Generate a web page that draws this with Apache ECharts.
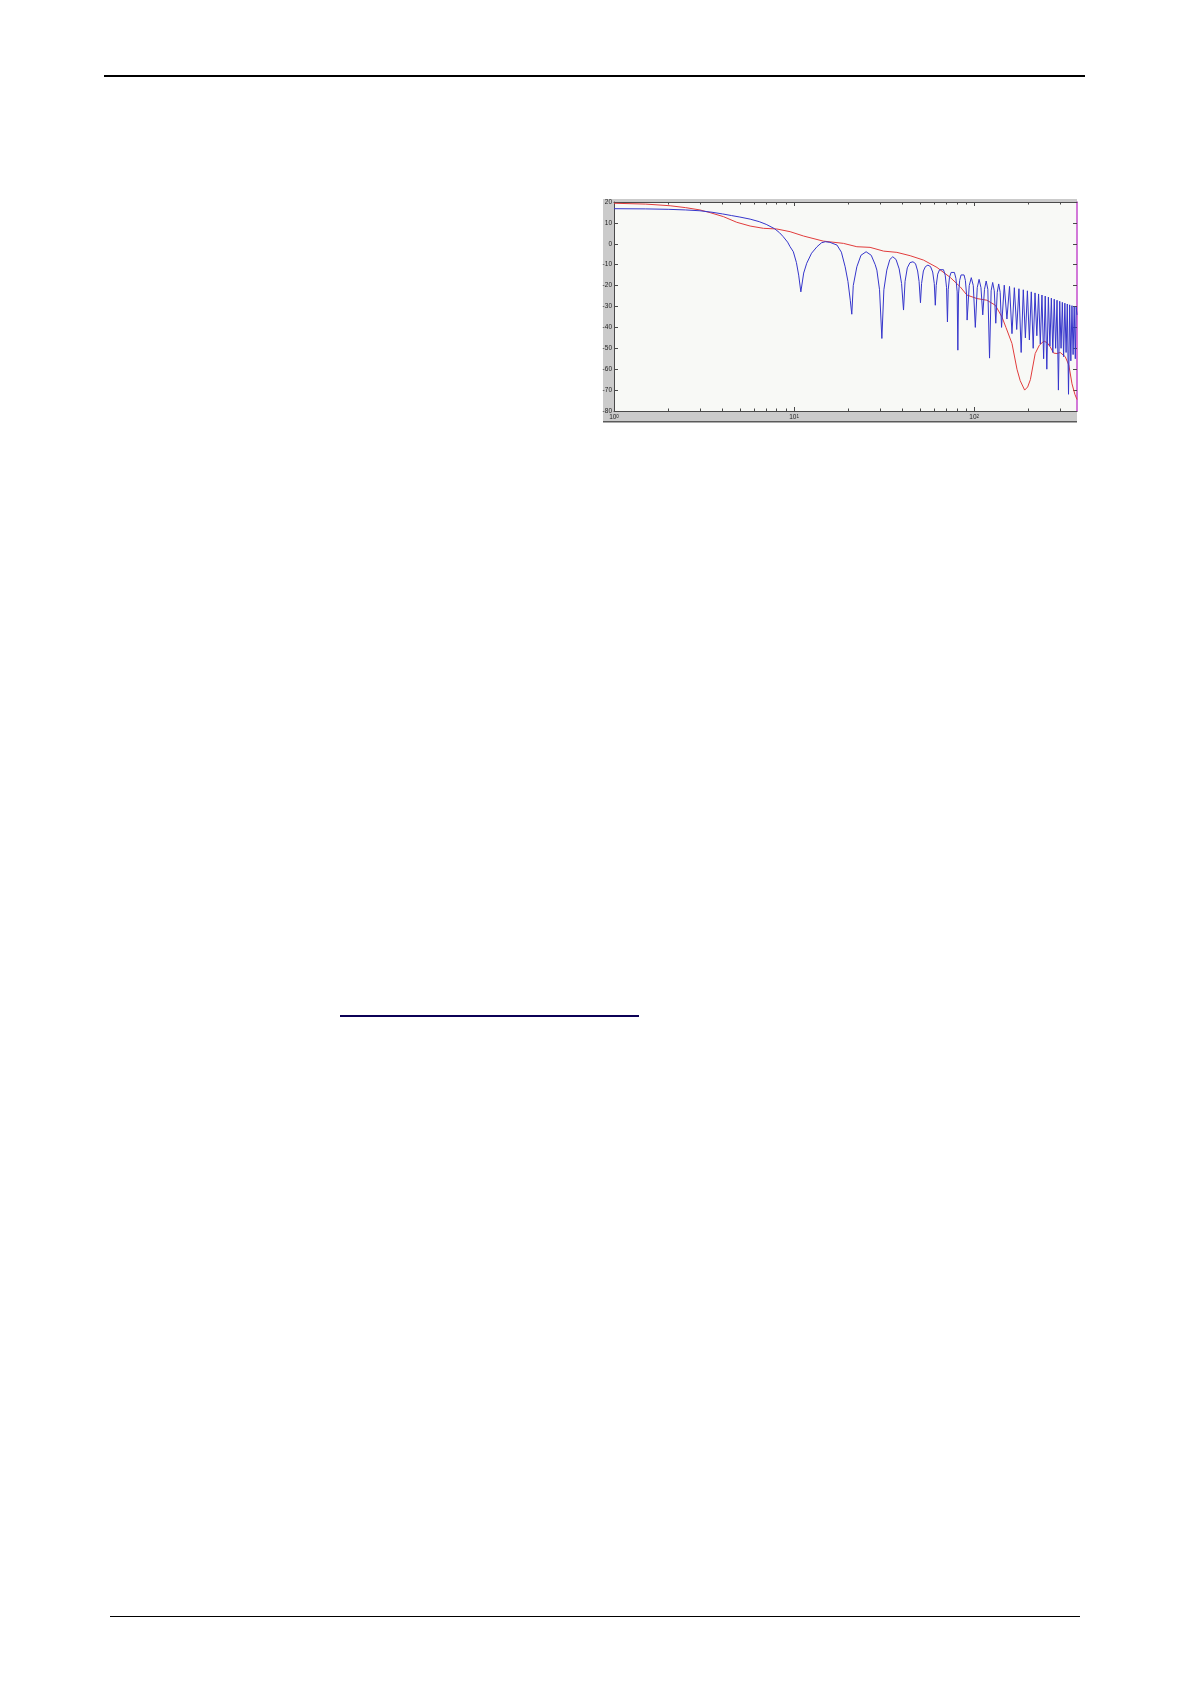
<!DOCTYPE html>
<html>
<head>
<meta charset="utf-8">
<script src="https://cdn.jsdelivr.net/npm/echarts@6/dist/echarts.min.js"></script>
<style>
html,body{margin:0;padding:0;background:#ffffff;}
#c{width:1191px;height:1683px;}
</style>
</head>
<body>
<div id="c"></div>
<script>
// ---- data ----
const xMajorTicks = [1, 10, 100];
const xMinorTicks = [2, 3, 4, 5, 6, 7, 8, 9, 20, 30, 40, 50, 60, 70, 80, 90, 200, 300];
const yTickValues = [-80, -70, -60, -50, -40, -30, -20, -10, 0, 10, 20];

const blueFreq = [
  1, 1.5, 2, 2.5, 3, 3.5, 4, 4.5, 5, 5.7, 6.4, 7, 7.8, 8.3, 8.7, 9.2, 9.5, 9.9, 10.3, 10.6, 10.9,
  11.3, 11.75, 12.5, 13.4, 14.2, 14.9, 15.8, 17.3, 18.3, 19.2, 19.9, 20.5, 20.9,
  21.3, 22.3, 23.5, 25.1, 26.8, 28.2, 28.8, 29.8, 30.7,
  31.5, 32.7, 34, 35.3, 36.8, 38.3, 39.5, 40.5,
  41.3, 42.5, 44, 45.7, 47.2, 48.5, 49.4, 50.3,
  51.0, 52.2, 53.6, 55.3, 57.2, 58.8, 60.0, 60.8,
  61.5, 62.7, 64.2, 65.8, 67.5, 69.0, 70.2, 71.0,
  71.7, 72.9, 74.4, 76, 77.6, 79.1, 80.4, 81.1,
  81.8, 83, 84.5, 86.1, 87.8, 89.3, 90.6, 91.3,
  93.8, 96.3, 98.8, 101.4,
  103.9, 106.4, 109, 111.5,
  114, 116.5, 119, 121.6,
  124.1, 126.6, 129.2, 131.7,
  134.2, 136.7, 139.3, 141.8,
  146.8, 151.9, 157, 162, 167, 172.1, 177.1, 182.2, 187.2, 192.3,
  197.3, 202.4, 207.4, 212.5, 217.5, 222.6, 227.6, 232.7, 237.7, 242.8,
  247.8, 252.9, 258, 263, 268, 273.1, 278.1, 283.2, 288.2, 293.3,
  298.3, 303.4, 308.4, 313.5, 318.5, 323.6, 328.6, 333.7, 338.7, 343.8,
  348.8, 353.9, 358.9, 364, 368, 372
];
const blueDb = [
  16.8, 16.7, 16.5, 16.2, 15.8, 15.1, 14.3, 13.5, 12.8, 11.8, 10.6, 9.3, 7.2, 5.3, 3.4, 0.8, -1.4, -3.8, -9, -15, -23,
  -14, -9.3, -4.5, -1.4, 0.5, 1.0, 0.7, -0.6, -4, -11, -18, -27, -33.7,
  -20, -11, -5.5, -3.8, -5.5, -10, -12.6, -22, -45.3,
  -22, -12.6, -7.5, -6.2, -7.5, -12, -19, -31.7,
  -18, -11.5, -9, -8.6, -9.5, -13, -18, -28.2,
  -19, -13, -10.9, -10.2, -10.9, -13.5, -19, -29.4,
  -20, -14.5, -12.4, -11.8, -12.4, -15, -21, -37.4,
  -22, -16, -13.7, -13.1, -13.7, -16.5, -23, -50.9,
  -24, -17.5, -14.9, -14.3, -14.9, -17.5, -24, -36.5,
  -20, -16.2, -20, -40,
  -21, -17.0, -21, -34,
  -21.8, -17.8, -21.8, -54.7,
  -22.5, -18.5, -22.5, -38,
  -23.2, -19.2, -23.2, -40,
  -19.8, -36, -20.4, -43, -21.0, -41, -21.5, -52, -22.0, -45,
  -22.5, -46, -23, -50, -23.5, -44, -24, -48, -24.5, -55,
  -25, -60, -25.5, -49, -26, -52, -26.5, -50, -27, -70,
  -27.5, -50, -28, -54, -28.4, -52, -28.8, -72, -29.2, -56,
  -29.6, -53, -30, -55, -30.3, -34
];

const redFreq = [
  1, 1.5, 2.05, 2.5, 3.0, 3.42, 4.05, 4.8, 5.7, 6.76, 8.0, 9.5, 11.3, 14.5, 18.8, 22.3, 26.4,
  31.4, 37.2, 44.1, 52.3, 62.1, 73.6, 83.6, 91, 103.5, 117.5, 131, 142.5, 150, 162, 172.7,
  180, 190.5, 198, 205, 218, 230, 244, 255, 264, 276, 288, 300, 320, 335, 349, 362, 372
];
const redDb = [
  19.4, 19.0, 18.2, 17.3, 16.2, 14.9, 13.0, 10.3, 8.5, 7.4, 7.1, 5.8, 3.7, 1.3, 0.2, -1.4, -1.7,
  -3.5, -4.1, -5.7, -7.8, -11.3, -16.1, -20.6, -24.5, -26.2, -27, -29.4, -35, -40, -47.7, -60,
  -65.5, -70, -68.5, -65, -52.5, -48.5, -46.5, -47.5, -49.3, -52.3, -52.5, -52, -54, -58, -67, -72, -74.5
];

// ---- chart ----
const chart = echarts.init(document.getElementById('c'), null, {renderer: 'canvas'});
const FONT = 'Liberation Sans, Arial, sans-serif';
const axisGray = '#4a4a4a';
const xMin = 1, xMax = 372;

function logAxis(extra) {
  return Object.assign({
    type: 'log', logBase: 10, min: xMin, max: xMax, gridIndex: 0,
    splitLine: {show: false}, minorTick: {show: false}, minorSplitLine: {show: false}
  }, extra);
}

const option = {
  animation: false,
  backgroundColor: '#ffffff',
  textStyle: {fontFamily: FONT},
  grid: {
    left: 614, top: 202, width: 463, height: 209,
    show: true, backgroundColor: '#f8f9f6', borderWidth: 0
  },
  graphic: [
    // page rules
    {type: 'rect', shape: {x: 104, y: 75, width: 981, height: 2}, style: {fill: '#000000'}, silent: true},
    {type: 'rect', shape: {x: 340, y: 1015, width: 299, height: 2}, style: {fill: '#0b0055'}, silent: true},
    {type: 'rect', shape: {x: 110, y: 1616, width: 970, height: 1}, style: {fill: '#000000'}, silent: true},
    // figure frame (screenshot gray)
    {type: 'rect', z: -5, shape: {x: 603, y: 199, width: 474, height: 223}, style: {fill: '#cbcbcb'}, silent: true},
    {type: 'rect', z: -4, shape: {x: 603, y: 421, width: 474, height: 1.5}, style: {fill: '#5a5a5a'}, silent: true}
  ],
  xAxis: [
    logAxis({
      position: 'bottom',
      axisLine: {show: true, onZero: false, lineStyle: {color: axisGray, width: 1}},
      axisTick: {show: true, inside: true, length: 4, customValues: xMajorTicks, lineStyle: {color: axisGray}},
      axisLabel: {
        show: true, customValues: xMajorTicks, margin: 3, color: '#222', fontSize: 6.5, fontFamily: FONT,
        formatter: function (v) { return '{b|10}{s|' + Math.round(Math.log10(v)) + '}'; },
        rich: {
          b: {fontSize: 6.5, color: '#222', fontFamily: FONT},
          s: {fontSize: 4.5, color: '#222', fontFamily: FONT, verticalAlign: 'top'}
        }
      }
    }),
    logAxis({
      position: 'bottom',
      axisLine: {show: false, onZero: false},
      axisTick: {show: true, inside: true, length: 2.5, customValues: xMinorTicks, lineStyle: {color: axisGray}},
      axisLabel: {show: false}
    }),
    logAxis({
      position: 'top',
      axisLine: {show: true, onZero: false, lineStyle: {color: axisGray, width: 1}},
      axisTick: {show: true, inside: true, length: 4, customValues: xMajorTicks, lineStyle: {color: axisGray}},
      axisLabel: {show: false}
    }),
    logAxis({
      position: 'top',
      axisLine: {show: false, onZero: false},
      axisTick: {show: true, inside: true, length: 2.5, customValues: xMinorTicks, lineStyle: {color: axisGray}},
      axisLabel: {show: false}
    })
  ],
  yAxis: [
    {
      type: 'value', min: -80, max: 20, interval: 10, position: 'left', gridIndex: 0,
      splitLine: {show: false},
      axisLine: {show: true, onZero: false, lineStyle: {color: axisGray, width: 1}},
      axisTick: {show: true, inside: true, length: 4, customValues: yTickValues, lineStyle: {color: axisGray}},
      axisLabel: {show: true, customValues: yTickValues, margin: 2, color: '#222', fontSize: 6.5, fontFamily: FONT}
    },
    {
      type: 'value', min: -80, max: 20, interval: 10, position: 'right', gridIndex: 0,
      splitLine: {show: false},
      axisLine: {show: true, onZero: false, lineStyle: {color: '#c44ccc', width: 1.5}},
      axisTick: {show: true, inside: true, length: 4, customValues: yTickValues, lineStyle: {color: axisGray}},
      axisLabel: {show: false}
    }
  ],
  series: [
    {
      name: 'red', type: 'line', xAxisIndex: 0, yAxisIndex: 0,
      data: redFreq.map(function (f, i) { return [f, redDb[i]]; }),
      showSymbol: false, symbol: 'none', smooth: false, sampling: null,
      lineStyle: {color: '#e23c3c', width: 1}, z: 3
    },
    {
      name: 'blue', type: 'line', xAxisIndex: 0, yAxisIndex: 0,
      data: blueFreq.map(function (f, i) { return [f, blueDb[i]]; }),
      showSymbol: false, symbol: 'none', smooth: false, sampling: null,
      lineStyle: {color: '#3636cc', width: 1}, z: 4
    }
  ]
};
chart.setOption(option);
</script>
</body>
</html>
